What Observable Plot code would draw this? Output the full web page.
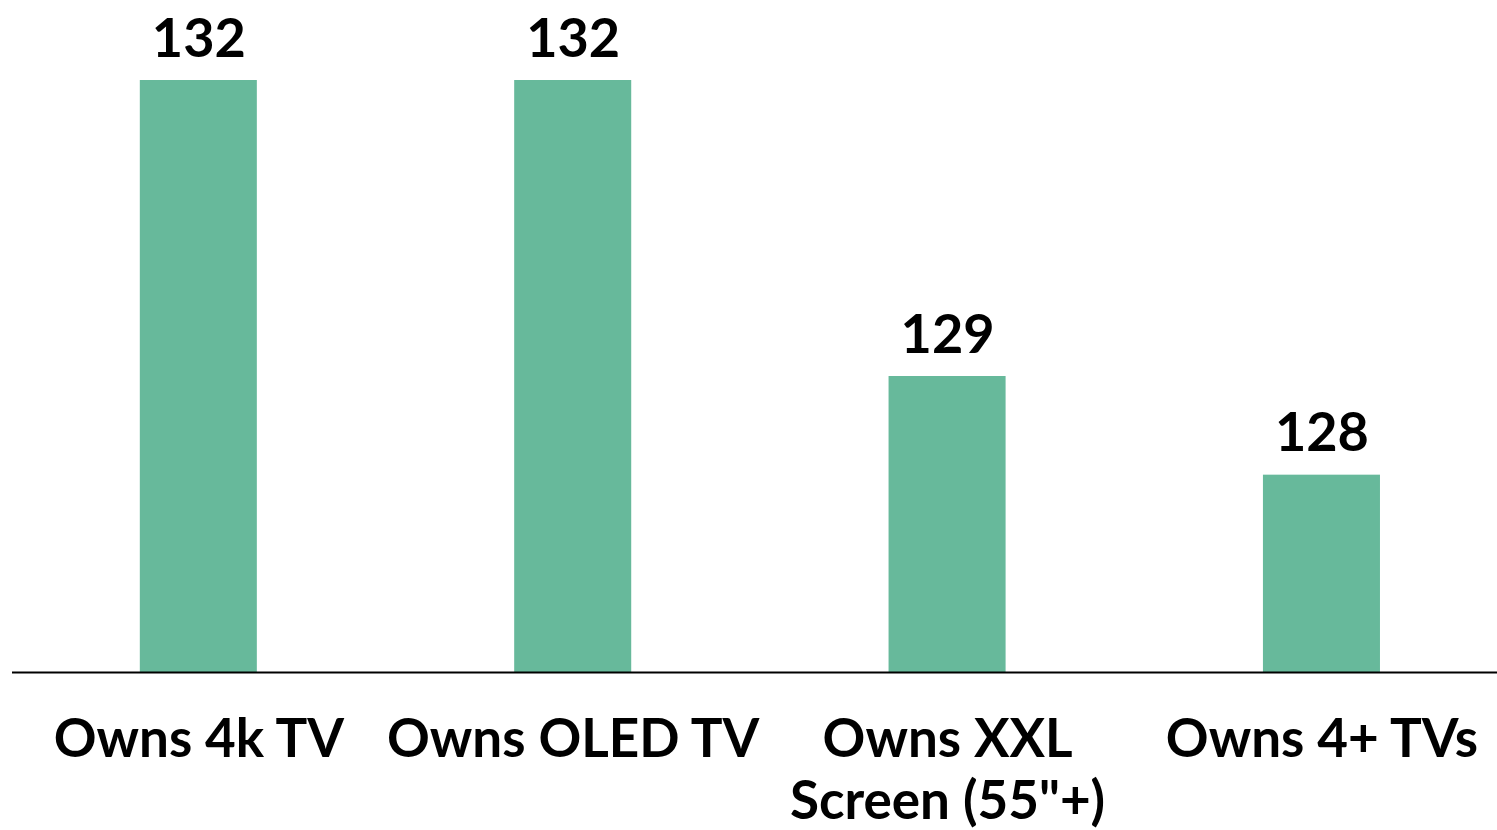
<!DOCTYPE html>
<html>
<head>
<meta charset="utf-8">
<script src="https://cdn.jsdelivr.net/npm/d3@7"></script>
<script src="https://cdn.jsdelivr.net/npm/@observablehq/plot@0.6"></script>
<style>
  html, body { margin: 0; padding: 0; background: #fff; }
  #chart svg { display: block; }
</style>
</head>
<body>
<div id="chart"></div>
<script>
const categories = ["Owns 4k TV", "Owns OLED TV", "Owns XXL\nScreen (55\"+)", "Owns 4+ TVs"];
const values = [132, 132, 129, 128];
const baseline = 126;

const data = categories.map((c, i) => ({category: c, value: values[i]}));
const font = "Lato, 'DejaVu Sans', sans-serif";

const chart = Plot.plot({
  width: 1497,
  height: 830,
  marginTop: 80,
  marginBottom: 158,
  marginLeft: 12,
  marginRight: 0,
  style: {fontFamily: font, background: "#fff"},
  x: {domain: categories, paddingInner: 0.6874, paddingOuter: 0.327, align: 0.522, round: false, label: null},
  y: {domain: [baseline, 132], axis: null},
  marks: [
    Plot.barY(data, {x: "category", y1: () => baseline, y2: "value", fill: "#67b99b"}),
    Plot.ruleY([baseline], {stroke: "#000", strokeWidth: 2}),
    Plot.text(data, {x: "category", y: "value", text: d => String(d.value), dy: -24, lineAnchor: "bottom", fontSize: 54, fontWeight: "bold", fill: "#000"}),
    Plot.axisX({tickSize: 0, tickPadding: 41, fontSize: 53, fontWeight: "bold", lineHeight: 1.16, fill: "#000", label: null})
  ]
});
document.getElementById("chart").appendChild(chart);
</script>
</body>
</html>
